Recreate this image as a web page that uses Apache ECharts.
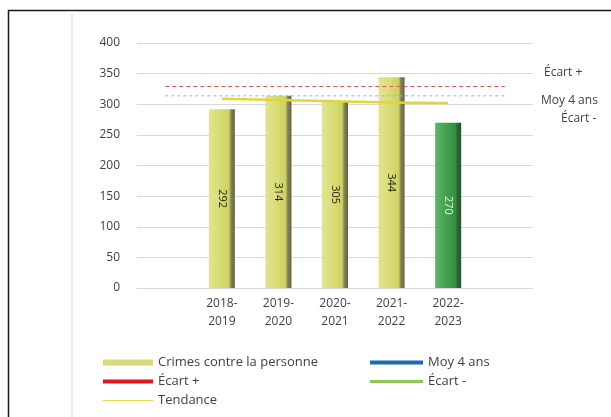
<!DOCTYPE html>
<html>
<head>
<meta charset="utf-8">
<script src="https://cdn.jsdelivr.net/npm/echarts@6/dist/echarts.min.js"></script>
<style>
  html, body { margin: 0; padding: 0; background: #fff; }
  #chart { width: 611px; height: 417px; }
</style>
</head>
<body>
<div id="chart"></div>
<script>
// categories (empty slots at both ends, like the source sheet)
const categories = ['', '2018-\n2019', '2019-\n2020', '2020-\n2021', '2021-\n2022', '2022-\n2023', ''];
const crimes = [null, 292, 314, 305, 344, 270, null];
const moy4ans = [313.75, 313.75, 313.75, 313.75, 313.75, 313.75, 313.75];
const ecartPlus = [329, 329, 329, 329, 329, 329, 329];
const ecartMoins = [];
const tendance = [null, 309, 307, 305, 303, 302, null];
const yTicks = { min: 0, max: 400, step: 50 };
const sideLabels = ['Écart +', 'Moy 4 ans', 'Écart -'];

const FONT = '"Open Sans", "Liberation Sans", sans-serif';

const yellowBar = new echarts.graphic.LinearGradient(0, 0, 1, 0, [
  { offset: 0, color: '#e2e48e' },
  { offset: 0.45, color: '#d9dc74' },
  { offset: 0.78, color: '#cdd062' },
  { offset: 0.84, color: '#8c8c55' },
  { offset: 1, color: '#5f5f45' }
]);
const greenBar = new echarts.graphic.LinearGradient(0, 0, 1, 0, [
  { offset: 0, color: '#5db767' },
  { offset: 0.5, color: '#3f9d4b' },
  { offset: 0.78, color: '#358f41' },
  { offset: 0.84, color: '#2b6e33' },
  { offset: 1, color: '#23522a' }
]);

const barData = crimes.map((v, i) => {
  if (v === null) return null;
  const last = i === 5;
  return {
    value: v,
    itemStyle: { color: last ? greenBar : yellowBar },
    label: { color: last ? '#e8f5e8' : '#222' }
  };
});

const chart = echarts.init(document.getElementById('chart'));

const legendText = { color: '#404040', fontSize: 13, lineHeight: 19, fontFamily: FONT };

const option = {
  animation: false,
  backgroundColor: '#fff',
  textStyle: { fontFamily: FONT },
  grid: { left: 137, right: 78, top: 43, bottom: 129 },
  xAxis: {
    type: 'category',
    data: categories,
    axisLine: { show: true, lineStyle: { color: '#d9d9d9' } },
    axisTick: { show: false },
    axisLabel: { color: '#404040', fontSize: 12, lineHeight: 18, margin: 7, interval: 0 }
  },
  yAxis: {
    type: 'value',
    min: yTicks.min,
    max: yTicks.max,
    interval: yTicks.step,
    axisLine: { show: false },
    axisTick: { show: false },
    axisLabel: { color: '#404040', fontSize: 12, margin: 17 },
    splitLine: { lineStyle: { color: '#d9d9d9', width: 1 } }
  },
  legend: [
    {
      orient: 'vertical',
      left: 103,
      top: 353,
      padding: 0,
      itemWidth: 50,
      itemHeight: 8,
      itemGap: 0,
      textStyle: legendText,
      itemStyle: { borderWidth: 0 },
      data: [
        { name: 'Crimes contre la personne', icon: 'path://M0,0M50,8M0,1h50v6h-50z', itemStyle: { color: '#d8db7a' } },
        { name: 'Écart +', icon: 'path://M0,0M50,8M0,2h50v4h-50z', itemStyle: { color: '#e3141c' } },
        { name: 'Tendance', icon: 'path://M0,0M50,8M0,3.5h50v1h-50z', itemStyle: { color: '#e9d64a' } }
      ]
    },
    {
      orient: 'vertical',
      left: 370,
      top: 353,
      padding: 0,
      itemWidth: 53,
      itemHeight: 8,
      itemGap: 0,
      textStyle: legendText,
      itemStyle: { borderWidth: 0 },
      data: [
        { name: 'Moy 4 ans', icon: 'path://M0,0M53,8M0,2h53v4h-53z', itemStyle: { color: '#1f68ad' } },
        { name: 'Écart -', icon: 'path://M0,0M53,8M0,2.5h53v3h-53z', itemStyle: { color: '#8dc855' } }
      ]
    }
  ],
  graphic: [
    { type: 'rect', silent: true, shape: { x: 8.5, y: 10.5, width: 640, height: 440 },
      style: { fill: 'none', stroke: '#1a1a1a', lineWidth: 1.5 } },
    { type: 'rect', silent: true, shape: { x: 71, y: 11, width: 2, height: 420 },
      style: { fill: '#ebebeb' } },
    { type: 'text', silent: true, left: 544, top: 67,
      style: { text: sideLabels[0], fill: '#404040', font: '12px ' + FONT } },
    { type: 'text', silent: true, left: 541, top: 95,
      style: { text: sideLabels[1], fill: '#404040', font: '12px ' + FONT } },
    { type: 'text', silent: true, left: 561, top: 113,
      style: { text: sideLabels[2], fill: '#404040', font: '12px ' + FONT } }
  ],
  series: [
    {
      name: 'Crimes contre la personne',
      type: 'bar',
      barWidth: 26,
      data: barData,
      label: {
        show: true,
        position: 'inside',
        rotate: -90,
        fontSize: 11,
        fontFamily: FONT
      },
      z: 2
    },
    {
      name: 'Moy 4 ans',
      type: 'line',
      data: moy4ans,
      symbol: 'none',
      color: '#5b9bd5',
      lineStyle: { color: '#8fb4e0', width: 1, type: [3, 3] },
      z: 3
    },
    {
      name: 'Écart +',
      type: 'line',
      data: ecartPlus,
      symbol: 'none',
      color: '#e3141c',
      lineStyle: { color: '#e8505a', width: 1, type: [4, 3] },
      z: 3
    },
    {
      name: 'Écart -',
      type: 'line',
      data: ecartMoins,
      symbol: 'none',
      color: '#8dc855',
      lineStyle: { color: '#8dc855', width: 1 },
      z: 3
    },
    {
      name: 'Tendance',
      type: 'line',
      data: tendance,
      symbol: 'none',
      color: '#e9d64a',
      lineStyle: { color: '#e6d23c', width: 2.5 },
      z: 4
    }
  ]
};

chart.setOption(option);
</script>
</body>
</html>
